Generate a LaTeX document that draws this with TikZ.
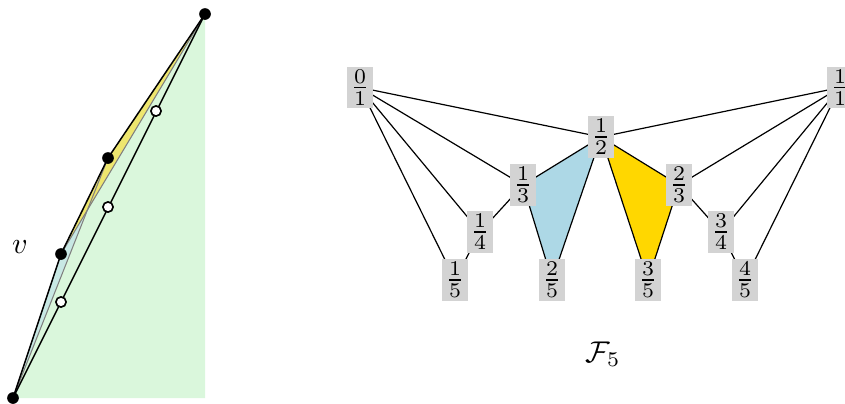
\documentclass[tikz,border=0pt]{standalone}
\usetikzlibrary{backgrounds}
\definecolor{fgreen}{RGB}{218,247,220}
\definecolor{fyellow}{RGB}{238,230,110}
\definecolor{fcyan}{RGB}{200,232,228}
\definecolor{fblue}{RGB}{173,216,230}
\definecolor{fgold}{RGB}{255,215,0}
\definecolor{fgray}{RGB}{211,211,211}
\tikzset{
  fracbox/.style={fill=fgray,inner sep=1pt},
  fulldot/.style={circle,fill=black,inner sep=0pt,minimum size=3.9pt},
  opendot/.style={circle,draw=black,fill=white,line width=0.55pt,inner sep=0pt,minimum size=3.4pt},
  thinedge/.style={black,line width=0.4pt},
  leftedge/.style={black,line width=0.5pt},
  hull/.style={gray,line width=0.35pt}
}
\begin{document}
\begin{tikzpicture}[x=0.33333pt,y=-0.33333pt]
\useasboundingbox (0,0) rectangle (845,403);
% ---------- left part ----------
\coordinate (B) at (13,398);
\coordinate (V) at (61,254);
\coordinate (P) at (108,158);
\coordinate (T) at (205,14);
\coordinate (C) at (205,398);
\fill[fgreen] (B) -- (V) -- (P) -- (T) -- (C) -- cycle;
\fill[fcyan] (B) -- (V) -- (P) -- cycle;
\fill[fyellow] (V) -- (P) -- (T) -- cycle;
\draw[hull] (B) -- (P);
\draw[hull] (V) -- (T);
\draw[leftedge] (B) -- (V) -- (P) -- (T);
\draw[leftedge] (B) -- (T);
\node[fulldot] (dB) at (B) {};
\node[fulldot] (dV) at (V) {};
\node[fulldot] (dP) at (P) {};
\node[fulldot] (dT) at (T) {};
\node[opendot] (o1) at (61,302) {};
\node[opendot] (o2) at (108,207) {};
\node[opendot] (o3) at (156,111) {};
\node (vlab) at (20,247) {$v$};
% ---------- right part ----------
\node[fracbox] (f01) at (360,87.5) {$\frac{0}{1}$};
\node[fracbox] (f11) at (840,87.5) {$\frac{1}{1}$};
\node[fracbox] (f12) at (601,137) {$\frac{1}{2}$};
\node[fracbox] (f13) at (523,185) {$\frac{1}{3}$};
\node[fracbox] (f23) at (679,185) {$\frac{2}{3}$};
\node[fracbox] (f14) at (480,232) {$\frac{1}{4}$};
\node[fracbox] (f34) at (721,232) {$\frac{3}{4}$};
\node[fracbox] (f15) at (455,280) {$\frac{1}{5}$};
\node[fracbox] (f25) at (552,280) {$\frac{2}{5}$};
\node[fracbox] (f35) at (648,280) {$\frac{3}{5}$};
\node[fracbox] (f45) at (745,280) {$\frac{4}{5}$};
\node (flab) at (603,354) {$\mathcal{F}_5$};
\begin{scope}[on background layer]
  \fill[fblue] (f12.center) -- (f13.center) -- (f25.center) -- cycle;
  \fill[fgold] (f12.center) -- (f23.center) -- (f35.center) -- cycle;
  \draw[thinedge] (f01.center) -- (f12.center);
  \draw[thinedge] (f01.center) -- (f13.center);
  \draw[thinedge] (f01.center) -- (f14.center);
  \draw[thinedge] (f01.center) -- (f15.center);
  \draw[thinedge] (f11.center) -- (f12.center);
  \draw[thinedge] (f11.center) -- (f23.center);
  \draw[thinedge] (f11.center) -- (f34.center);
  \draw[thinedge] (f11.center) -- (f45.center);
  \draw[thinedge] (f12.center) -- (f13.center);
  \draw[thinedge] (f12.center) -- (f23.center);
  \draw[thinedge] (f13.center) -- (f14.center);
  \draw[thinedge] (f14.center) -- (f15.center);
  \draw[thinedge] (f23.center) -- (f34.center);
  \draw[thinedge] (f34.center) -- (f45.center);
  \draw[thinedge] (f13.center) -- (f25.center);
  \draw[thinedge] (f25.center) -- (f12.center);
  \draw[thinedge] (f12.center) -- (f35.center);
  \draw[thinedge] (f35.center) -- (f23.center);
\end{scope}
\end{tikzpicture}
\end{document}
